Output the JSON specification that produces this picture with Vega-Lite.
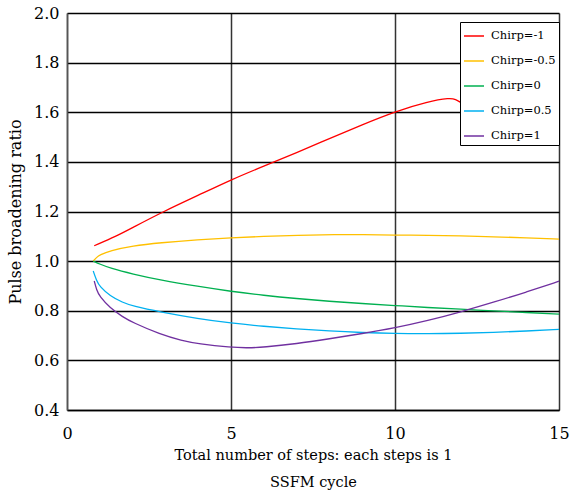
{
  "$schema": "https://vega.github.io/schema/vega-lite/v6.json",
  "width": 492,
  "height": 397,
  "autosize": {"type": "none"},
  "padding": {"left": 67, "top": 13, "right": 18, "bottom": 85},
  "background": "white",
  "config": {
    "font": "DejaVu Serif",
    "view": {"stroke": null}
  },
  "data": {
    "values": [
      {"s": "Chirp=-1", "x": 0.83, "y": 1.062},
      {"s": "Chirp=-1", "x": 1.5, "y": 1.10},
      {"s": "Chirp=-1", "x": 2, "y": 1.135},
      {"s": "Chirp=-1", "x": 2.94, "y": 1.2},
      {"s": "Chirp=-1", "x": 4, "y": 1.265},
      {"s": "Chirp=-1", "x": 5, "y": 1.328},
      {"s": "Chirp=-1", "x": 6, "y": 1.383},
      {"s": "Chirp=-1", "x": 7, "y": 1.437},
      {"s": "Chirp=-1", "x": 8, "y": 1.494},
      {"s": "Chirp=-1", "x": 9, "y": 1.55},
      {"s": "Chirp=-1", "x": 10, "y": 1.603},
      {"s": "Chirp=-1", "x": 11, "y": 1.643},
      {"s": "Chirp=-1", "x": 11.68, "y": 1.658},
      {"s": "Chirp=-1", "x": 11.85, "y": 1.652},
      {"s": "Chirp=-1", "x": 12, "y": 1.64},
      {"s": "Chirp=-0.5", "x": 0.8, "y": 1.0},
      {"s": "Chirp=-0.5", "x": 0.9, "y": 1.015},
      {"s": "Chirp=-0.5", "x": 1.0, "y": 1.025},
      {"s": "Chirp=-0.5", "x": 1.31, "y": 1.042},
      {"s": "Chirp=-0.5", "x": 2, "y": 1.062},
      {"s": "Chirp=-0.5", "x": 2.84, "y": 1.074},
      {"s": "Chirp=-0.5", "x": 4, "y": 1.086},
      {"s": "Chirp=-0.5", "x": 5, "y": 1.094},
      {"s": "Chirp=-0.5", "x": 6, "y": 1.1},
      {"s": "Chirp=-0.5", "x": 7, "y": 1.104},
      {"s": "Chirp=-0.5", "x": 8.22, "y": 1.107},
      {"s": "Chirp=-0.5", "x": 9, "y": 1.107},
      {"s": "Chirp=-0.5", "x": 10, "y": 1.105},
      {"s": "Chirp=-0.5", "x": 11, "y": 1.104},
      {"s": "Chirp=-0.5", "x": 12, "y": 1.102},
      {"s": "Chirp=-0.5", "x": 13, "y": 1.098},
      {"s": "Chirp=-0.5", "x": 14, "y": 1.094},
      {"s": "Chirp=-0.5", "x": 15, "y": 1.089},
      {"s": "Chirp=0", "x": 0.8, "y": 1.0},
      {"s": "Chirp=0", "x": 1.0, "y": 0.988},
      {"s": "Chirp=0", "x": 1.31, "y": 0.972},
      {"s": "Chirp=0", "x": 2, "y": 0.948},
      {"s": "Chirp=0", "x": 2.84, "y": 0.924},
      {"s": "Chirp=0", "x": 4, "y": 0.898},
      {"s": "Chirp=0", "x": 5, "y": 0.878},
      {"s": "Chirp=0", "x": 6, "y": 0.862},
      {"s": "Chirp=0", "x": 7, "y": 0.849},
      {"s": "Chirp=0", "x": 8, "y": 0.838},
      {"s": "Chirp=0", "x": 9, "y": 0.829},
      {"s": "Chirp=0", "x": 10, "y": 0.821},
      {"s": "Chirp=0", "x": 11, "y": 0.813},
      {"s": "Chirp=0", "x": 12, "y": 0.806},
      {"s": "Chirp=0", "x": 13, "y": 0.8},
      {"s": "Chirp=0", "x": 14, "y": 0.793},
      {"s": "Chirp=0", "x": 15, "y": 0.786},
      {"s": "Chirp=0.5", "x": 0.8, "y": 0.96},
      {"s": "Chirp=0.5", "x": 0.9, "y": 0.922},
      {"s": "Chirp=0.5", "x": 1.0, "y": 0.897},
      {"s": "Chirp=0.5", "x": 1.31, "y": 0.86},
      {"s": "Chirp=0.5", "x": 1.7, "y": 0.833},
      {"s": "Chirp=0.5", "x": 2, "y": 0.819},
      {"s": "Chirp=0.5", "x": 2.84, "y": 0.795},
      {"s": "Chirp=0.5", "x": 4, "y": 0.768},
      {"s": "Chirp=0.5", "x": 5, "y": 0.75},
      {"s": "Chirp=0.5", "x": 6, "y": 0.737},
      {"s": "Chirp=0.5", "x": 7, "y": 0.727},
      {"s": "Chirp=0.5", "x": 8, "y": 0.718},
      {"s": "Chirp=0.5", "x": 9, "y": 0.712},
      {"s": "Chirp=0.5", "x": 10, "y": 0.708},
      {"s": "Chirp=0.5", "x": 11, "y": 0.707},
      {"s": "Chirp=0.5", "x": 12, "y": 0.709},
      {"s": "Chirp=0.5", "x": 13, "y": 0.713},
      {"s": "Chirp=0.5", "x": 14, "y": 0.718},
      {"s": "Chirp=0.5", "x": 15, "y": 0.725},
      {"s": "Chirp=1", "x": 0.83, "y": 0.92},
      {"s": "Chirp=1", "x": 0.9, "y": 0.885},
      {"s": "Chirp=1", "x": 1.0, "y": 0.856},
      {"s": "Chirp=1", "x": 1.31, "y": 0.812},
      {"s": "Chirp=1", "x": 1.7, "y": 0.775},
      {"s": "Chirp=1", "x": 2, "y": 0.753},
      {"s": "Chirp=1", "x": 2.84, "y": 0.705},
      {"s": "Chirp=1", "x": 3.5, "y": 0.68},
      {"s": "Chirp=1", "x": 4, "y": 0.667},
      {"s": "Chirp=1", "x": 5, "y": 0.652},
      {"s": "Chirp=1", "x": 5.5, "y": 0.65},
      {"s": "Chirp=1", "x": 6, "y": 0.653},
      {"s": "Chirp=1", "x": 7, "y": 0.667},
      {"s": "Chirp=1", "x": 8, "y": 0.687},
      {"s": "Chirp=1", "x": 9, "y": 0.708},
      {"s": "Chirp=1", "x": 10, "y": 0.731},
      {"s": "Chirp=1", "x": 11, "y": 0.76},
      {"s": "Chirp=1", "x": 12, "y": 0.795},
      {"s": "Chirp=1", "x": 13, "y": 0.834},
      {"s": "Chirp=1", "x": 14, "y": 0.875},
      {"s": "Chirp=1", "x": 15, "y": 0.919}
    ]
  },
  "mark": {"type": "line", "interpolate": "basis", "strokeWidth": 1.3},
  "encoding": {
    "x": {
      "field": "x",
      "type": "quantitative",
      "scale": {"domain": [0, 15], "nice": false},
      "axis": {
        "values": [0, 5, 10, 15],
        "title": ["Total number of steps: each steps is 1", "SSFM cycle"],
        "titleFont": "DejaVu Serif",
        "titleFontSize": 14.5,
        "titleFontWeight": "normal",
        "titleColor": "black",
        "titleLineHeight": 27,
        "titlePadding": 7,
        "labelFont": "DejaVu Serif",
        "labelFontSize": 16,
        "labelColor": "black",
        "labelPadding": 15,
        "labelFlush": false,
        "ticks": false,
        "domainColor": "black",
        "domainWidth": 1.5,
        "gridColor": "#333",
        "gridWidth": 1.5,
        "gridOpacity": 1
      }
    },
    "y": {
      "field": "y",
      "type": "quantitative",
      "scale": {"domain": [0.4, 2.0], "nice": false, "zero": false},
      "axis": {
        "values": [0.4, 0.6, 0.8, 1.0, 1.2, 1.4, 1.6, 1.8, 2.0],
        "format": ".1f",
        "title": "Pulse broadening ratio",
        "titleFont": "DejaVu Serif",
        "titleFontSize": 16,
        "titleFontWeight": "normal",
        "titleColor": "black",
        "titlePadding": 10,
        "labelFont": "DejaVu Serif",
        "labelFontSize": 16,
        "labelColor": "black",
        "labelPadding": 8,
        "labelFlush": false,
        "ticks": false,
        "domainColor": "#555",
        "domainWidth": 1.5,
        "gridColor": "black",
        "gridWidth": 1.3,
        "gridOpacity": 1
      }
    },
    "color": {
      "field": "s",
      "type": "nominal",
      "scale": {
        "domain": ["Chirp=-1", "Chirp=-0.5", "Chirp=0", "Chirp=0.5", "Chirp=1"],
        "range": ["#ff0000", "#ffc000", "#00b050", "#00b0f0", "#7030a0"]
      },
      "legend": {
        "title": null,
        "orient": "none",
        "legendX": 393,
        "legendY": 9,
        "fillColor": "white",
        "strokeColor": "black",
        "padding": 3,
        "symbolType": "stroke",
        "symbolSize": 400,
        "symbolStrokeWidth": 1.5,
        "labelFont": "DejaVu Serif",
        "labelFontSize": 11.5,
        "labelColor": "black",
        "labelOffset": 6,
        "rowPadding": 8
      }
    }
  }
}
